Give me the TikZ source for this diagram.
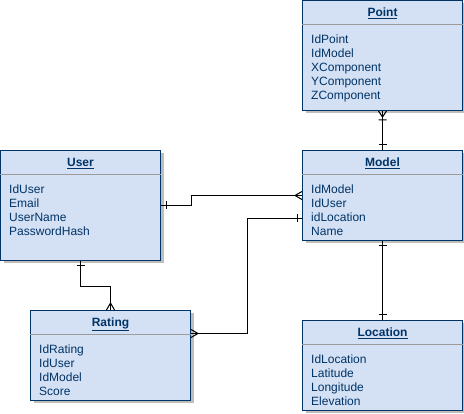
\documentclass[tikz,border=0pt]{standalone}
\usepackage{fontspec}
\setmainfont{Liberation Sans}
\usetikzlibrary{shadows}
\definecolor{navy}{RGB}{0,51,102}
\definecolor{lightblue}{RGB}{212,225,245}
\definecolor{shadowgray}{RGB}{190,190,190}
\definecolor{dividergray}{RGB}{155,155,155}

% ER line ends
\pgfdeclarearrow{
    name = erone,
    setup code = {
        \pgfarrowssettipend{0pt}
        \pgfarrowssetlineend{0pt}
        \pgfarrowssetbackend{-6pt}
    },
    drawing code = {
        \pgfpathmoveto{\pgfqpoint{-5pt}{4pt}}
        \pgfpathlineto{\pgfqpoint{-5pt}{-4pt}}
        \pgfusepathqstroke
    }
}
\pgfdeclarearrow{
    name = ermany,
    setup code = {
        \pgfarrowssettipend{0pt}
        \pgfarrowssetlineend{0pt}
        \pgfarrowssetbackend{-7pt}
    },
    drawing code = {
        \pgfpathmoveto{\pgfqpoint{0pt}{4pt}}
        \pgfpathlineto{\pgfqpoint{-7pt}{0pt}}
        \pgfpathlineto{\pgfqpoint{0pt}{-4pt}}
        \pgfusepathqstroke
    }
}
\pgfdeclarearrow{
    name = ermandmany,
    setup code = {
        \pgfarrowssettipend{0pt}
        \pgfarrowssetlineend{0pt}
        \pgfarrowssetbackend{-10pt}
    },
    drawing code = {
        \pgfpathmoveto{\pgfqpoint{0pt}{4pt}}
        \pgfpathlineto{\pgfqpoint{-6pt}{0pt}}
        \pgfpathlineto{\pgfqpoint{0pt}{-4pt}}
        \pgfpathmoveto{\pgfqpoint{-9pt}{4pt}}
        \pgfpathlineto{\pgfqpoint{-9pt}{-4pt}}
        \pgfusepathqstroke
    }
}

\begin{document}
\begin{tikzpicture}[
    x=1pt, y=-1pt,
    font=\fontsize{12}{14}\selectfont,
    entity/.style={rectangle,
        draw=navy,
        fill=lightblue,
        line width=1pt,
        minimum width=160pt,
        inner sep=0pt,
        anchor=north west,
        drop shadow={shadow xshift=3pt, shadow yshift=-3pt, fill=shadowgray, opacity=1},
        },
    title/.style={
        anchor=base,
        inner sep=0pt,
        text=navy,
        font=\fontsize{12}{14}\selectfont\bfseries,
        },
    fields/.style={
        anchor=north west,
        inner sep=0pt,
        align=left,
        text=navy,
        },
    divider/.style={line width=1pt, color=dividergray},
    connector/.style={line width=1pt, color=black},
    ]
    \useasboundingbox (0,0) rectangle (464,414);

    \node[entity, minimum height=110pt] (n_point) at (302,0) {};
    \node[title] (n_point_title) at ([yshift=-16.5pt]n_point.north) {\underline{Point}};
    \draw[divider] ([yshift=-25pt]n_point.north west) -- ([yshift=-25pt]n_point.north east);
    \node[fields] (n_point_fields) at ([xshift=9pt, yshift=-35pt]n_point.north west)
        {IdPoint\\IdModel\\XComponent\\YComponent\\ZComponent};

    \node[entity, minimum height=90pt] (n_model) at (302,150) {};
    \node[title] (n_model_title) at ([yshift=-16.5pt]n_model.north) {\underline{Model}};
    \draw[divider] ([yshift=-25pt]n_model.north west) -- ([yshift=-25pt]n_model.north east);
    \node[fields] (n_model_fields) at ([xshift=9pt, yshift=-35pt]n_model.north west)
        {IdModel\\IdUser\\idLocation\\Name};

    \node[entity, minimum height=110pt] (n_user) at (0,150) {};
    \node[title] (n_user_title) at ([yshift=-16.5pt]n_user.north) {\underline{User}};
    \draw[divider] ([yshift=-25pt]n_user.north west) -- ([yshift=-25pt]n_user.north east);
    \node[fields] (n_user_fields) at ([xshift=9pt, yshift=-35pt]n_user.north west)
        {IdUser\\Email\\UserName\\PasswordHash};

    \node[entity, minimum height=90pt] (n_rating) at (30,310) {};
    \node[title] (n_rating_title) at ([yshift=-16.5pt]n_rating.north) {\underline{Rating}};
    \draw[divider] ([yshift=-25pt]n_rating.north west) -- ([yshift=-25pt]n_rating.north east);
    \node[fields] (n_rating_fields) at ([xshift=9pt, yshift=-35pt]n_rating.north west)
        {IdRating\\IdUser\\IdModel\\Score};

    \node[entity, minimum height=90pt] (n_location) at (302,320) {};
    \node[title] (n_location_title) at ([yshift=-16.5pt]n_location.north) {\underline{Location}};
    \draw[divider] ([yshift=-25pt]n_location.north west) -- ([yshift=-25pt]n_location.north east);
    \node[fields] (n_location_fields) at ([xshift=9pt, yshift=-35pt]n_location.north west)
        {IdLocation\\Latitude\\Longitude\\Elevation};

    \draw[connector, ermandmany-erone] (n_point.south) -- (n_model.north);
    \draw[connector, erone-ermany] (n_user.east) -- ++(30,0) |- (n_model.west);
    \draw[connector, erone-ermany] ([yshift=-23pt]n_model.west) -- ++(-55,0) |- ([yshift=22pt]n_rating.east);
    \draw[connector, erone-ermany] (n_user.south) -- ++(0,26) -| (n_rating.north);
    \draw[connector, erone-erone] (n_model.south) -- (n_location.north);

\end{tikzpicture}
\end{document}
